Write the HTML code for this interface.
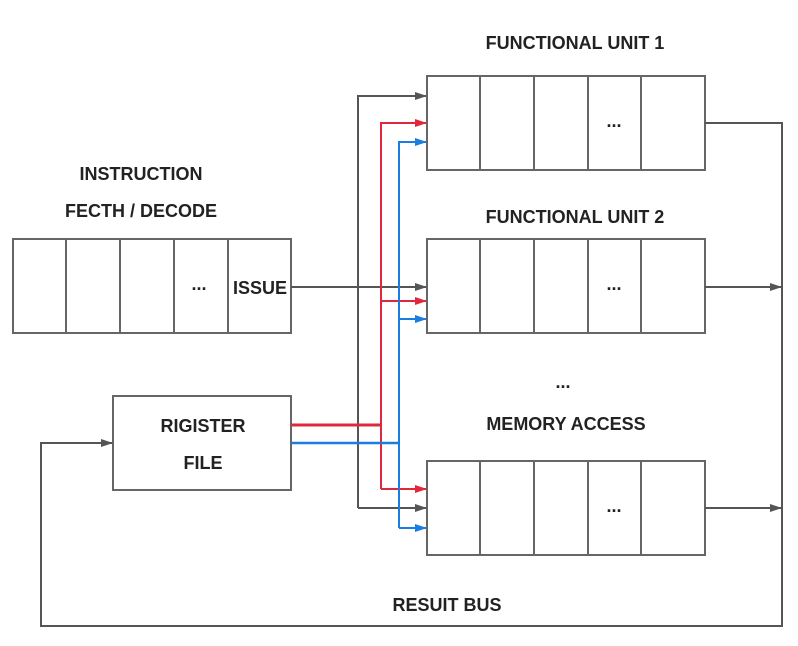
<!DOCTYPE html>
<html><head><meta charset="utf-8"><style>
html,body{margin:0;padding:0;background:#fff;}
svg text{font-family:"Liberation Sans","DejaVu Sans",sans-serif;font-weight:bold;font-size:18px;fill:#222;}
</style></head><body>
<svg width="798" height="641" viewBox="0 0 798 641" xmlns="http://www.w3.org/2000/svg">
<defs>
<marker id="ag" markerWidth="12" markerHeight="8" refX="11" refY="4" orient="auto" markerUnits="userSpaceOnUse"><path d="M0,0 L12,4 L0,8 z" fill="#555"/></marker>
<marker id="ar" markerWidth="12" markerHeight="8" refX="11" refY="4" orient="auto" markerUnits="userSpaceOnUse"><path d="M0,0 L12,4 L0,8 z" fill="#e0283c"/></marker>
<marker id="ab" markerWidth="12" markerHeight="8" refX="11" refY="4" orient="auto" markerUnits="userSpaceOnUse"><path d="M0,0 L12,4 L0,8 z" fill="#1a7de0"/></marker>
</defs>
<g fill="none" stroke="#666" stroke-width="2">
<rect x="427" y="76" width="278" height="94"/>
<path d="M480,76V170M534,76V170M588,76V170M641,76V170"/>
<rect x="427" y="239" width="278" height="94"/>
<path d="M480,239V333M534,239V333M588,239V333M641,239V333"/>
<rect x="427" y="461" width="278" height="94"/>
<path d="M480,461V555M534,461V555M588,461V555M641,461V555"/>
<rect x="13" y="239" width="278" height="94"/>
<path d="M66,239V333M120,239V333M174,239V333M228,239V333"/>
<rect x="113" y="396" width="178" height="94"/>
</g>
<g fill="none" stroke="#555" stroke-width="2">
<path d="M291,287H426" marker-end="url(#ag)"/>
<path d="M358,508V96H426" marker-end="url(#ag)"/>
<path d="M358,508H426" marker-end="url(#ag)"/>
<path d="M705,123H782V626H41V443H112" marker-end="url(#ag)"/>
<path d="M705,287H781" marker-end="url(#ag)"/>
<path d="M705,508H781" marker-end="url(#ag)"/>
</g>
<g fill="none" stroke="#e0283c" stroke-width="2">
<path d="M291,425H381" stroke-width="3"/>
<path d="M381,489V123H426" marker-end="url(#ar)"/>
<path d="M381,489H426" marker-end="url(#ar)"/>
<path d="M381,301H426" marker-end="url(#ar)"/>
</g>
<g fill="none" stroke="#1a7de0" stroke-width="2">
<path d="M291,443H399" stroke-width="2.5"/>
<path d="M399,528V142H426" marker-end="url(#ab)"/>
<path d="M399,528H426" marker-end="url(#ab)"/>
<path d="M399,319H426" marker-end="url(#ab)"/>
</g>
<text x="575" y="49" text-anchor="middle">FUNCTIONAL UNIT 1</text>
<text x="575" y="223" text-anchor="middle">FUNCTIONAL UNIT 2</text>
<text x="566" y="430" text-anchor="middle">MEMORY ACCESS</text>
<text x="563" y="388" text-anchor="middle">...</text>
<text x="141" y="180" text-anchor="middle">INSTRUCTION</text>
<text x="141" y="217" text-anchor="middle">FECTH /  DECODE</text>
<text x="260" y="294" text-anchor="middle">ISSUE</text>
<text x="199" y="290" text-anchor="middle">...</text>
<text x="614" y="127" text-anchor="middle">...</text>
<text x="614" y="290" text-anchor="middle">...</text>
<text x="614" y="512" text-anchor="middle">...</text>
<text x="203" y="432" text-anchor="middle">RIGISTER</text>
<text x="203" y="469" text-anchor="middle">FILE</text>
<text x="447" y="611" text-anchor="middle">RESUIT BUS</text>
</svg>
</body></html>
